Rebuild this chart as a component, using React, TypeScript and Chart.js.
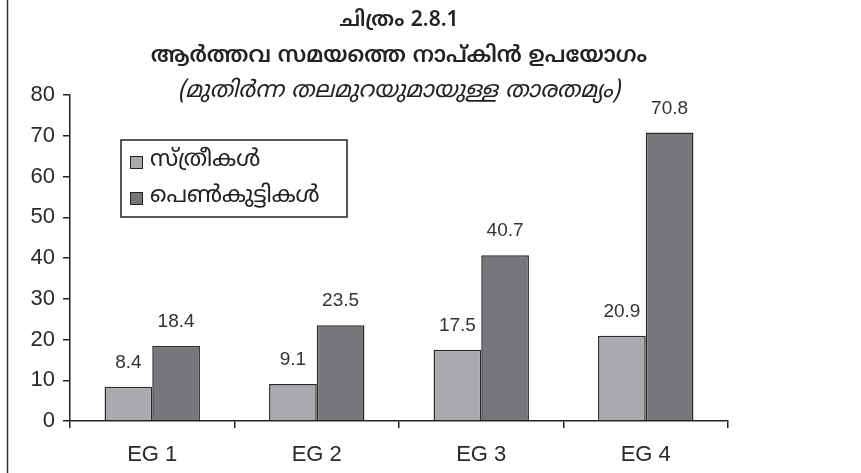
import React, { useEffect, useRef } from "react";
import { Chart, registerables } from "chart.js";

Chart.register(...registerables);

const categories = ["EG 1", "EG 2", "EG 3", "EG 4"];
const womenLabel = "സ്ത്രീകൾ";
const girlsLabel = "പെൺകുട്ടികൾ";
const womenValues = [8.4, 9.1, 17.5, 20.9];
const girlsValues = [18.4, 23.5, 40.7, 70.8];
const yTicks = [0, 10, 20, 30, 40, 50, 60, 70, 80];
const titleLines = [
  "ചിത്രം 2.8.1",
  "ആർത്തവ സമയത്തെ നാപ്കിൻ ഉപയോഗം",
  "(മുതിർന്ന തലമുറയുമായുള്ള താരതമ്യം)",
];

const W = 861;
const H = 473;
const ML = '"Noto Sans Malayalam", "Noto Sans", "DejaVu Sans", sans-serif';
const NUM = '"Liberation Sans", Arial, sans-serif';

const decorPlugin = {
  id: "decor",
  beforeDraw(chart: any) {
    const ctx = chart.ctx;
    ctx.save();
    ctx.strokeStyle = "#333";
    ctx.lineWidth = 1.5;
    ctx.beginPath();
    ctx.moveTo(7.5, 0);
    ctx.lineTo(7.5, chart.height);
    ctx.stroke();
    ctx.restore();
  },
  afterDatasetsDraw(chart: any) {
    const ctx = chart.ctx;
    ctx.save();
    ctx.fillStyle = "#333";
    ctx.font = `19px ${NUM}`;
    ctx.textAlign = "center";
    ctx.textBaseline = "middle";
    chart.data.datasets.forEach((ds: any, i: number) => {
      const meta = chart.getDatasetMeta(i);
      meta.data.forEach((el: any, j: number) => {
        ctx.fillText(String(ds.data[j]), el.x, el.y - 24);
      });
    });
    ctx.restore();
  },
  afterDraw(chart: any) {
    const ctx = chart.ctx;
    const ca = chart.chartArea;
    ctx.save();
    ctx.fillStyle = "#222";
    ctx.textAlign = "center";
    ctx.textBaseline = "middle";
    const cx = (ca.left + ca.right) / 2;
    ctx.font = `600 21px ${ML}`;
    ctx.fillText(titleLines[0], cx, 22);
    ctx.font = `600 22px ${ML}`;
    ctx.fillText(titleLines[1], cx, 58);
    ctx.font = `italic 23px ${ML}`;
    ctx.fillText(titleLines[2], cx, 93);

    const bx = ca.left + 51;
    const by = ca.top + 45;
    const bw = 226;
    const bh = 77;
    ctx.fillStyle = "#fff";
    ctx.fillRect(bx, by, bw, bh);
    ctx.strokeStyle = "#222";
    ctx.lineWidth = 1.5;
    ctx.strokeRect(bx, by, bw, bh);
    ctx.textAlign = "left";
    ctx.font = `23px ${ML}`;
    chart.data.datasets.forEach((ds: any, i: number) => {
      const y = by + 22 + i * 36;
      ctx.fillStyle = ds.backgroundColor;
      ctx.fillRect(bx + 9, y - 6, 13, 13);
      ctx.strokeStyle = "#222";
      ctx.lineWidth = 1;
      ctx.strokeRect(bx + 9.5, y - 5.5, 12, 12);
      ctx.fillStyle = "#222";
      ctx.fillText(ds.label, bx + 29, y);
    });
    ctx.restore();
  },
};

export default function App() {
  const ref = useRef<HTMLCanvasElement | null>(null);
  useEffect(() => {
    if (!ref.current) return;
    const chart = new Chart(ref.current, {
      type: "bar",
      data: {
        labels: categories,
        datasets: [
          {
            label: womenLabel,
            data: womenValues,
            backgroundColor: "#a9aaad",
            borderColor: "#2a2a2a",
            borderWidth: 1.5,
            categoryPercentage: 0.58,
            barPercentage: 1.0,
          },
          {
            label: girlsLabel,
            data: girlsValues,
            backgroundColor: "#76777b",
            borderColor: "#2a2a2a",
            borderWidth: 1.5,
            categoryPercentage: 0.58,
            barPercentage: 1.0,
          },
        ],
      },
      options: {
        responsive: false,
        animation: false,
        layout: { padding: { top: 95, right: 133, left: 0, bottom: 0 } },
        plugins: {
          legend: { display: false },
          tooltip: { enabled: false },
          title: { display: false },
        },
        scales: {
          x: {
            afterFit: (s: any) => {
              s.height = 52;
            },
            grid: {
              display: true,
              drawOnChartArea: false,
              offset: true,
              tickLength: 7,
              color: "#222",
              lineWidth: 1.5,
            },
            border: { color: "#222", width: 1.5 },
            ticks: {
              color: "#2a2a2a",
              font: { family: NUM, size: 22 },
              padding: 14,
            },
          },
          y: {
            min: 0,
            max: 80,
            afterFit: (s: any) => {
              s.width = 70;
            },
            afterBuildTicks: (s: any) => {
              s.ticks = yTicks.map((v) => ({ value: v }));
            },
            grid: {
              display: true,
              drawOnChartArea: false,
              tickLength: 7,
              color: "#222",
              lineWidth: 1.5,
            },
            border: { color: "#222", width: 1.5 },
            ticks: {
              color: "#2a2a2a",
              font: { family: NUM, size: 22 },
              padding: 8,
            },
          },
        },
      },
      plugins: [decorPlugin],
    });
    return () => chart.destroy();
  }, []);
  return (
    <div style={{ position: "absolute", left: 0, top: 0, width: W, height: H, background: "#fff" }}>
      <canvas ref={ref} width={W} height={H} style={{ width: W, height: H, display: "block" }} />
    </div>
  );
}
